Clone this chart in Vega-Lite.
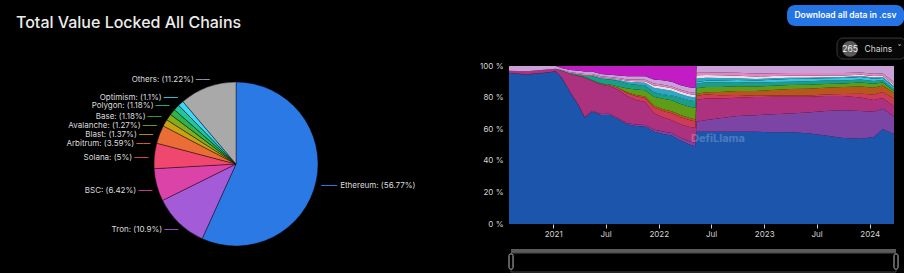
{
"$schema": "https://vega.github.io/schema/vega-lite/v6.json",
"background": "#000",
"padding": {"top": 5, "left": 0, "right": 0, "bottom": 0},
"bounds": "flush",
"spacing": 37,
"config": {"view": {"stroke": null}, "font": "Inter", "axisY": {"labelOverlap": false}},
"resolve": {"scale": {"color": "independent"}},
"datasets": {
"pie": [
{"chain":"Ethereum","pct":56.77,"k":1,"label":"Ethereum: (56.77%)"},
{"chain":"Tron","pct":10.9,"k":2,"label":"Tron: (10.9%)"},
{"chain":"BSC","pct":6.42,"k":3,"label":"BSC: (6.42%)"},
{"chain":"Solana","pct":5,"k":4,"label":"Solana: (5%)"},
{"chain":"Arbitrum","pct":3.59,"k":5,"label":"Arbitrum: (3.59%)"},
{"chain":"Blast","pct":1.37,"k":6,"label":"Blast: (1.37%)"},
{"chain":"Avalanche","pct":1.27,"k":7,"label":"Avalanche: (1.27%)"},
{"chain":"Base","pct":1.18,"k":8,"label":"Base: (1.18%)"},
{"chain":"Polygon","pct":1.18,"k":9,"label":"Polygon: (1.18%)"},
{"chain":"Optimism","pct":1.1,"k":10,"label":"Optimism: (1.1%)"},
{"chain":"Others","pct":11.22,"k":11,"label":"Others: (11.22%)"}
],
"chains": [
{"c":"Ethereum","k":1},{"c":"Tron","k":2},{"c":"BSC","k":3},{"c":"Solana","k":4},{"c":"Arbitrum","k":5},{"c":"Avalanche","k":6},{"c":"Polygon","k":7},{"c":"Optimism","k":8},{"c":"Fantom","k":9},{"c":"Cronos","k":10},{"c":"Mixin","k":11},{"c":"Others","k":12},{"c":"Terra","k":13}
],
"tvl": [
{"d":"2020-08-01","c":"Ethereum","v":95.5},{"d":"2020-08-01","c":"Tron","v":0},{"d":"2020-08-01","c":"BSC","v":1.5},{"d":"2020-08-01","c":"Solana","v":0},{"d":"2020-08-01","c":"Arbitrum","v":0},{"d":"2020-08-01","c":"Avalanche","v":0},{"d":"2020-08-01","c":"Polygon","v":0},{"d":"2020-08-01","c":"Optimism","v":0},{"d":"2020-08-01","c":"Fantom","v":0},{"d":"2020-08-01","c":"Cronos","v":0},{"d":"2020-08-01","c":"Mixin","v":0},{"d":"2020-08-01","c":"Others","v":3.0},{"d":"2020-08-01","c":"Terra","v":0},
{"d":"2020-10-01","c":"Ethereum","v":94.5},{"d":"2020-10-01","c":"Tron","v":0.2},{"d":"2020-10-01","c":"BSC","v":2.0},{"d":"2020-10-01","c":"Solana","v":0},{"d":"2020-10-01","c":"Arbitrum","v":0},{"d":"2020-10-01","c":"Avalanche","v":0},{"d":"2020-10-01","c":"Polygon","v":0},{"d":"2020-10-01","c":"Optimism","v":0},{"d":"2020-10-01","c":"Fantom","v":0},{"d":"2020-10-01","c":"Cronos","v":0},{"d":"2020-10-01","c":"Mixin","v":0},{"d":"2020-10-01","c":"Others","v":3.3},{"d":"2020-10-01","c":"Terra","v":0},
{"d":"2020-12-01","c":"Ethereum","v":95.5},{"d":"2020-12-01","c":"Tron","v":0.2},{"d":"2020-12-01","c":"BSC","v":2.0},{"d":"2020-12-01","c":"Solana","v":0},{"d":"2020-12-01","c":"Arbitrum","v":0},{"d":"2020-12-01","c":"Avalanche","v":0},{"d":"2020-12-01","c":"Polygon","v":0},{"d":"2020-12-01","c":"Optimism","v":0},{"d":"2020-12-01","c":"Fantom","v":0},{"d":"2020-12-01","c":"Cronos","v":0},{"d":"2020-12-01","c":"Mixin","v":0},{"d":"2020-12-01","c":"Others","v":2.3},{"d":"2020-12-01","c":"Terra","v":0},
{"d":"2021-01-10","c":"Ethereum","v":96.5},{"d":"2021-01-10","c":"Tron","v":0.2},{"d":"2021-01-10","c":"BSC","v":1.6},{"d":"2021-01-10","c":"Solana","v":0},{"d":"2021-01-10","c":"Arbitrum","v":0},{"d":"2021-01-10","c":"Avalanche","v":0},{"d":"2021-01-10","c":"Polygon","v":0},{"d":"2021-01-10","c":"Optimism","v":0},{"d":"2021-01-10","c":"Fantom","v":0},{"d":"2021-01-10","c":"Cronos","v":0},{"d":"2021-01-10","c":"Mixin","v":0},{"d":"2021-01-10","c":"Others","v":1.7},{"d":"2021-01-10","c":"Terra","v":0},
{"d":"2021-02-01","c":"Ethereum","v":92},{"d":"2021-02-01","c":"Tron","v":0.3},{"d":"2021-02-01","c":"BSC","v":4.5},{"d":"2021-02-01","c":"Solana","v":0},{"d":"2021-02-01","c":"Arbitrum","v":0},{"d":"2021-02-01","c":"Avalanche","v":0},{"d":"2021-02-01","c":"Polygon","v":0.2},{"d":"2021-02-01","c":"Optimism","v":0},{"d":"2021-02-01","c":"Fantom","v":0.1},{"d":"2021-02-01","c":"Cronos","v":0},{"d":"2021-02-01","c":"Mixin","v":0.4},{"d":"2021-02-01","c":"Others","v":1.0},{"d":"2021-02-01","c":"Terra","v":1.5},
{"d":"2021-03-01","c":"Ethereum","v":83},{"d":"2021-03-01","c":"Tron","v":0.4},{"d":"2021-03-01","c":"BSC","v":11.5},{"d":"2021-03-01","c":"Solana","v":0},{"d":"2021-03-01","c":"Arbitrum","v":0},{"d":"2021-03-01","c":"Avalanche","v":0},{"d":"2021-03-01","c":"Polygon","v":0.3},{"d":"2021-03-01","c":"Optimism","v":0},{"d":"2021-03-01","c":"Fantom","v":0.2},{"d":"2021-03-01","c":"Cronos","v":0},{"d":"2021-03-01","c":"Mixin","v":0.6},{"d":"2021-03-01","c":"Others","v":1.5},{"d":"2021-03-01","c":"Terra","v":2.5},
{"d":"2021-04-01","c":"Ethereum","v":74},{"d":"2021-04-01","c":"Tron","v":0.5},{"d":"2021-04-01","c":"BSC","v":19},{"d":"2021-04-01","c":"Solana","v":0.2},{"d":"2021-04-01","c":"Arbitrum","v":0},{"d":"2021-04-01","c":"Avalanche","v":0.2},{"d":"2021-04-01","c":"Polygon","v":0.5},{"d":"2021-04-01","c":"Optimism","v":0},{"d":"2021-04-01","c":"Fantom","v":0.2},{"d":"2021-04-01","c":"Cronos","v":0.1},{"d":"2021-04-01","c":"Mixin","v":0.7},{"d":"2021-04-01","c":"Others","v":1.6},{"d":"2021-04-01","c":"Terra","v":3.0},
{"d":"2021-04-20","c":"Ethereum","v":67},{"d":"2021-04-20","c":"Tron","v":0.5},{"d":"2021-04-20","c":"BSC","v":25},{"d":"2021-04-20","c":"Solana","v":0.3},{"d":"2021-04-20","c":"Arbitrum","v":0},{"d":"2021-04-20","c":"Avalanche","v":0.2},{"d":"2021-04-20","c":"Polygon","v":0.8},{"d":"2021-04-20","c":"Optimism","v":0},{"d":"2021-04-20","c":"Fantom","v":0.2},{"d":"2021-04-20","c":"Cronos","v":0.1},{"d":"2021-04-20","c":"Mixin","v":0.8},{"d":"2021-04-20","c":"Others","v":1.6},{"d":"2021-04-20","c":"Terra","v":3.5},
{"d":"2021-05-15","c":"Ethereum","v":71},{"d":"2021-05-15","c":"Tron","v":0.6},{"d":"2021-05-15","c":"BSC","v":19},{"d":"2021-05-15","c":"Solana","v":0.3},{"d":"2021-05-15","c":"Arbitrum","v":0},{"d":"2021-05-15","c":"Avalanche","v":0.3},{"d":"2021-05-15","c":"Polygon","v":2.5},{"d":"2021-05-15","c":"Optimism","v":0},{"d":"2021-05-15","c":"Fantom","v":0.3},{"d":"2021-05-15","c":"Cronos","v":0.2},{"d":"2021-05-15","c":"Mixin","v":0.8},{"d":"2021-05-15","c":"Others","v":1.5},{"d":"2021-05-15","c":"Terra","v":3.5},
{"d":"2021-06-15","c":"Ethereum","v":69},{"d":"2021-06-15","c":"Tron","v":0.6},{"d":"2021-06-15","c":"BSC","v":18.5},{"d":"2021-06-15","c":"Solana","v":0.5},{"d":"2021-06-15","c":"Arbitrum","v":0},{"d":"2021-06-15","c":"Avalanche","v":0.4},{"d":"2021-06-15","c":"Polygon","v":3.0},{"d":"2021-06-15","c":"Optimism","v":0},{"d":"2021-06-15","c":"Fantom","v":0.4},{"d":"2021-06-15","c":"Cronos","v":0.3},{"d":"2021-06-15","c":"Mixin","v":0.8},{"d":"2021-06-15","c":"Others","v":1.5},{"d":"2021-06-15","c":"Terra","v":5.0},
{"d":"2021-07-15","c":"Ethereum","v":69},{"d":"2021-07-15","c":"Tron","v":0.7},{"d":"2021-07-15","c":"BSC","v":17.5},{"d":"2021-07-15","c":"Solana","v":0.6},{"d":"2021-07-15","c":"Arbitrum","v":0},{"d":"2021-07-15","c":"Avalanche","v":0.5},{"d":"2021-07-15","c":"Polygon","v":3.2},{"d":"2021-07-15","c":"Optimism","v":0},{"d":"2021-07-15","c":"Fantom","v":0.5},{"d":"2021-07-15","c":"Cronos","v":0.3},{"d":"2021-07-15","c":"Mixin","v":0.7},{"d":"2021-07-15","c":"Others","v":1.5},{"d":"2021-07-15","c":"Terra","v":5.5},
{"d":"2021-08-15","c":"Ethereum","v":66},{"d":"2021-08-15","c":"Tron","v":0.8},{"d":"2021-08-15","c":"BSC","v":18},{"d":"2021-08-15","c":"Solana","v":1.2},{"d":"2021-08-15","c":"Arbitrum","v":0},{"d":"2021-08-15","c":"Avalanche","v":1.0},{"d":"2021-08-15","c":"Polygon","v":3.5},{"d":"2021-08-15","c":"Optimism","v":0},{"d":"2021-08-15","c":"Fantom","v":0.7},{"d":"2021-08-15","c":"Cronos","v":0.4},{"d":"2021-08-15","c":"Mixin","v":0.8},{"d":"2021-08-15","c":"Others","v":1.6},{"d":"2021-08-15","c":"Terra","v":6.0},
{"d":"2021-09-15","c":"Ethereum","v":63},{"d":"2021-09-15","c":"Tron","v":0.8},{"d":"2021-09-15","c":"BSC","v":17},{"d":"2021-09-15","c":"Solana","v":2.0},{"d":"2021-09-15","c":"Arbitrum","v":0.5},{"d":"2021-09-15","c":"Avalanche","v":2.5},{"d":"2021-09-15","c":"Polygon","v":3.0},{"d":"2021-09-15","c":"Optimism","v":0},{"d":"2021-09-15","c":"Fantom","v":1.2},{"d":"2021-09-15","c":"Cronos","v":0.6},{"d":"2021-09-15","c":"Mixin","v":0.9},{"d":"2021-09-15","c":"Others","v":2.0},{"d":"2021-09-15","c":"Terra","v":6.5},
{"d":"2021-10-15","c":"Ethereum","v":62},{"d":"2021-10-15","c":"Tron","v":1.0},{"d":"2021-10-15","c":"BSC","v":15.5},{"d":"2021-10-15","c":"Solana","v":2.3},{"d":"2021-10-15","c":"Arbitrum","v":0.8},{"d":"2021-10-15","c":"Avalanche","v":3.5},{"d":"2021-10-15","c":"Polygon","v":2.8},{"d":"2021-10-15","c":"Optimism","v":0.3},{"d":"2021-10-15","c":"Fantom","v":1.5},{"d":"2021-10-15","c":"Cronos","v":0.7},{"d":"2021-10-15","c":"Mixin","v":1.0},{"d":"2021-10-15","c":"Others","v":2.1},{"d":"2021-10-15","c":"Terra","v":6.5},
{"d":"2021-11-15","c":"Ethereum","v":61.5},{"d":"2021-11-15","c":"Tron","v":1.2},{"d":"2021-11-15","c":"BSC","v":14.5},{"d":"2021-11-15","c":"Solana","v":2.5},{"d":"2021-11-15","c":"Arbitrum","v":1.0},{"d":"2021-11-15","c":"Avalanche","v":4.0},{"d":"2021-11-15","c":"Polygon","v":2.5},{"d":"2021-11-15","c":"Optimism","v":0.4},{"d":"2021-11-15","c":"Fantom","v":1.8},{"d":"2021-11-15","c":"Cronos","v":0.9},{"d":"2021-11-15","c":"Mixin","v":1.0},{"d":"2021-11-15","c":"Others","v":2.2},{"d":"2021-11-15","c":"Terra","v":6.5},
{"d":"2021-12-15","c":"Ethereum","v":58.5},{"d":"2021-12-15","c":"Tron","v":1.3},{"d":"2021-12-15","c":"BSC","v":10.5},{"d":"2021-12-15","c":"Solana","v":3.5},{"d":"2021-12-15","c":"Arbitrum","v":1.2},{"d":"2021-12-15","c":"Avalanche","v":5.5},{"d":"2021-12-15","c":"Polygon","v":2.5},{"d":"2021-12-15","c":"Optimism","v":0.4},{"d":"2021-12-15","c":"Fantom","v":2.8},{"d":"2021-12-15","c":"Cronos","v":1.5},{"d":"2021-12-15","c":"Mixin","v":1.2},{"d":"2021-12-15","c":"Others","v":2.6},{"d":"2021-12-15","c":"Terra","v":8.5},
{"d":"2022-01-15","c":"Ethereum","v":57},{"d":"2022-01-15","c":"Tron","v":1.5},{"d":"2022-01-15","c":"BSC","v":9},{"d":"2022-01-15","c":"Solana","v":4},{"d":"2022-01-15","c":"Arbitrum","v":1.2},{"d":"2022-01-15","c":"Avalanche","v":6.5},{"d":"2022-01-15","c":"Polygon","v":2.5},{"d":"2022-01-15","c":"Optimism","v":0.4},{"d":"2022-01-15","c":"Fantom","v":3.2},{"d":"2022-01-15","c":"Cronos","v":1.7},{"d":"2022-01-15","c":"Mixin","v":1.2},{"d":"2022-01-15","c":"Others","v":2.8},{"d":"2022-01-15","c":"Terra","v":9},
{"d":"2022-02-15","c":"Ethereum","v":56},{"d":"2022-02-15","c":"Tron","v":1.6},{"d":"2022-02-15","c":"BSC","v":8},{"d":"2022-02-15","c":"Solana","v":4.5},{"d":"2022-02-15","c":"Arbitrum","v":1.3},{"d":"2022-02-15","c":"Avalanche","v":7},{"d":"2022-02-15","c":"Polygon","v":2.5},{"d":"2022-02-15","c":"Optimism","v":0.4},{"d":"2022-02-15","c":"Fantom","v":3.0},{"d":"2022-02-15","c":"Cronos","v":1.6},{"d":"2022-02-15","c":"Mixin","v":1.2},{"d":"2022-02-15","c":"Others","v":2.9},{"d":"2022-02-15","c":"Terra","v":10},
{"d":"2022-03-15","c":"Ethereum","v":53},{"d":"2022-03-15","c":"Tron","v":1.8},{"d":"2022-03-15","c":"BSC","v":8.5},{"d":"2022-03-15","c":"Solana","v":4.5},{"d":"2022-03-15","c":"Arbitrum","v":1.3},{"d":"2022-03-15","c":"Avalanche","v":7},{"d":"2022-03-15","c":"Polygon","v":3.5},{"d":"2022-03-15","c":"Optimism","v":0.4},{"d":"2022-03-15","c":"Fantom","v":2.5},{"d":"2022-03-15","c":"Cronos","v":1.5},{"d":"2022-03-15","c":"Mixin","v":1.2},{"d":"2022-03-15","c":"Others","v":2.8},{"d":"2022-03-15","c":"Terra","v":12},
{"d":"2022-04-15","c":"Ethereum","v":50.5},{"d":"2022-04-15","c":"Tron","v":2},{"d":"2022-04-15","c":"BSC","v":9},{"d":"2022-04-15","c":"Solana","v":4.5},{"d":"2022-04-15","c":"Arbitrum","v":1.3},{"d":"2022-04-15","c":"Avalanche","v":7},{"d":"2022-04-15","c":"Polygon","v":3.5},{"d":"2022-04-15","c":"Optimism","v":0.5},{"d":"2022-04-15","c":"Fantom","v":2.4},{"d":"2022-04-15","c":"Cronos","v":1.5},{"d":"2022-04-15","c":"Mixin","v":1.3},{"d":"2022-04-15","c":"Others","v":3.0},{"d":"2022-04-15","c":"Terra","v":13.5},
{"d":"2022-05-08","c":"Ethereum","v":49},{"d":"2022-05-08","c":"Tron","v":2.2},{"d":"2022-05-08","c":"BSC","v":9.5},{"d":"2022-05-08","c":"Solana","v":4.2},{"d":"2022-05-08","c":"Arbitrum","v":1.3},{"d":"2022-05-08","c":"Avalanche","v":7.2},{"d":"2022-05-08","c":"Polygon","v":3.8},{"d":"2022-05-08","c":"Optimism","v":0.5},{"d":"2022-05-08","c":"Fantom","v":2.4},{"d":"2022-05-08","c":"Cronos","v":1.5},{"d":"2022-05-08","c":"Mixin","v":1.3},{"d":"2022-05-08","c":"Others","v":3.1},{"d":"2022-05-08","c":"Terra","v":14},
{"d":"2022-05-12","c":"Ethereum","v":58.4},{"d":"2022-05-12","c":"Tron","v":6.3},{"d":"2022-05-12","c":"BSC","v":14},{"d":"2022-05-12","c":"Solana","v":2.5},{"d":"2022-05-12","c":"Arbitrum","v":1.2},{"d":"2022-05-12","c":"Avalanche","v":3.5},{"d":"2022-05-12","c":"Polygon","v":3.0},{"d":"2022-05-12","c":"Optimism","v":1.0},{"d":"2022-05-12","c":"Fantom","v":2.2},{"d":"2022-05-12","c":"Cronos","v":2.0},{"d":"2022-05-12","c":"Mixin","v":1.9},{"d":"2022-05-12","c":"Others","v":4.0},{"d":"2022-05-12","c":"Terra","v":0},
{"d":"2022-06-15","c":"Ethereum","v":58.4},{"d":"2022-06-15","c":"Tron","v":7.5},{"d":"2022-06-15","c":"BSC","v":13.5},{"d":"2022-06-15","c":"Solana","v":2.5},{"d":"2022-06-15","c":"Arbitrum","v":1.5},{"d":"2022-06-15","c":"Avalanche","v":3.3},{"d":"2022-06-15","c":"Polygon","v":3.0},{"d":"2022-06-15","c":"Optimism","v":1.0},{"d":"2022-06-15","c":"Fantom","v":1.8},{"d":"2022-06-15","c":"Cronos","v":1.8},{"d":"2022-06-15","c":"Mixin","v":1.8},{"d":"2022-06-15","c":"Others","v":3.9},{"d":"2022-06-15","c":"Terra","v":0},
{"d":"2022-08-01","c":"Ethereum","v":58.4},{"d":"2022-08-01","c":"Tron","v":8.6},{"d":"2022-08-01","c":"BSC","v":12.5},{"d":"2022-08-01","c":"Solana","v":2.0},{"d":"2022-08-01","c":"Arbitrum","v":2.0},{"d":"2022-08-01","c":"Avalanche","v":3.2},{"d":"2022-08-01","c":"Polygon","v":3.0},{"d":"2022-08-01","c":"Optimism","v":1.2},{"d":"2022-08-01","c":"Fantom","v":1.5},{"d":"2022-08-01","c":"Cronos","v":1.7},{"d":"2022-08-01","c":"Mixin","v":1.8},{"d":"2022-08-01","c":"Others","v":4.1},{"d":"2022-08-01","c":"Terra","v":0},
{"d":"2022-10-01","c":"Ethereum","v":58.4},{"d":"2022-10-01","c":"Tron","v":10},{"d":"2022-10-01","c":"BSC","v":11.5},{"d":"2022-10-01","c":"Solana","v":1.8},{"d":"2022-10-01","c":"Arbitrum","v":2.5},{"d":"2022-10-01","c":"Avalanche","v":3.0},{"d":"2022-10-01","c":"Polygon","v":2.7},{"d":"2022-10-01","c":"Optimism","v":1.2},{"d":"2022-10-01","c":"Fantom","v":1.2},{"d":"2022-10-01","c":"Cronos","v":1.6},{"d":"2022-10-01","c":"Mixin","v":1.8},{"d":"2022-10-01","c":"Others","v":4.3},{"d":"2022-10-01","c":"Terra","v":0},
{"d":"2022-12-01","c":"Ethereum","v":58.4},{"d":"2022-12-01","c":"Tron","v":10.5},{"d":"2022-12-01","c":"BSC","v":11.5},{"d":"2022-12-01","c":"Solana","v":0.8},{"d":"2022-12-01","c":"Arbitrum","v":3.0},{"d":"2022-12-01","c":"Avalanche","v":2.8},{"d":"2022-12-01","c":"Polygon","v":2.5},{"d":"2022-12-01","c":"Optimism","v":1.3},{"d":"2022-12-01","c":"Fantom","v":1.0},{"d":"2022-12-01","c":"Cronos","v":1.5},{"d":"2022-12-01","c":"Mixin","v":1.9},{"d":"2022-12-01","c":"Others","v":4.8},{"d":"2022-12-01","c":"Terra","v":0},
{"d":"2023-02-01","c":"Ethereum","v":58},{"d":"2023-02-01","c":"Tron","v":11.5},{"d":"2023-02-01","c":"BSC","v":11},{"d":"2023-02-01","c":"Solana","v":0.8},{"d":"2023-02-01","c":"Arbitrum","v":3.5},{"d":"2023-02-01","c":"Avalanche","v":2.7},{"d":"2023-02-01","c":"Polygon","v":2.3},{"d":"2023-02-01","c":"Optimism","v":1.5},{"d":"2023-02-01","c":"Fantom","v":0.9},{"d":"2023-02-01","c":"Cronos","v":1.4},{"d":"2023-02-01","c":"Mixin","v":1.8},{"d":"2023-02-01","c":"Others","v":4.6},{"d":"2023-02-01","c":"Terra","v":0},
{"d":"2023-04-01","c":"Ethereum","v":58},{"d":"2023-04-01","c":"Tron","v":12},{"d":"2023-04-01","c":"BSC","v":10.5},{"d":"2023-04-01","c":"Solana","v":0.9},{"d":"2023-04-01","c":"Arbitrum","v":4.0},{"d":"2023-04-01","c":"Avalanche","v":2.5},{"d":"2023-04-01","c":"Polygon","v":2.2},{"d":"2023-04-01","c":"Optimism","v":1.6},{"d":"2023-04-01","c":"Fantom","v":0.8},{"d":"2023-04-01","c":"Cronos","v":1.3},{"d":"2023-04-01","c":"Mixin","v":1.7},{"d":"2023-04-01","c":"Others","v":4.5},{"d":"2023-04-01","c":"Terra","v":0},
{"d":"2023-06-01","c":"Ethereum","v":57.5},{"d":"2023-06-01","c":"Tron","v":13},{"d":"2023-06-01","c":"BSC","v":10},{"d":"2023-06-01","c":"Solana","v":0.9},{"d":"2023-06-01","c":"Arbitrum","v":4.2},{"d":"2023-06-01","c":"Avalanche","v":2.5},{"d":"2023-06-01","c":"Polygon","v":2.2},{"d":"2023-06-01","c":"Optimism","v":1.6},{"d":"2023-06-01","c":"Fantom","v":0.7},{"d":"2023-06-01","c":"Cronos","v":1.2},{"d":"2023-06-01","c":"Mixin","v":1.7},{"d":"2023-06-01","c":"Others","v":4.5},{"d":"2023-06-01","c":"Terra","v":0},
{"d":"2023-08-01","c":"Ethereum","v":56},{"d":"2023-08-01","c":"Tron","v":15.5},{"d":"2023-08-01","c":"BSC","v":9.5},{"d":"2023-08-01","c":"Solana","v":1.0},{"d":"2023-08-01","c":"Arbitrum","v":4.3},{"d":"2023-08-01","c":"Avalanche","v":2.3},{"d":"2023-08-01","c":"Polygon","v":2.2},{"d":"2023-08-01","c":"Optimism","v":1.5},{"d":"2023-08-01","c":"Fantom","v":0.6},{"d":"2023-08-01","c":"Cronos","v":1.1},{"d":"2023-08-01","c":"Mixin","v":1.6},{"d":"2023-08-01","c":"Others","v":4.4},{"d":"2023-08-01","c":"Terra","v":0},
{"d":"2023-10-01","c":"Ethereum","v":54.5},{"d":"2023-10-01","c":"Tron","v":17.5},{"d":"2023-10-01","c":"BSC","v":9},{"d":"2023-10-01","c":"Solana","v":1.2},{"d":"2023-10-01","c":"Arbitrum","v":4.5},{"d":"2023-10-01","c":"Avalanche","v":2.2},{"d":"2023-10-01","c":"Polygon","v":2.0},{"d":"2023-10-01","c":"Optimism","v":1.5},{"d":"2023-10-01","c":"Fantom","v":0.6},{"d":"2023-10-01","c":"Cronos","v":1.0},{"d":"2023-10-01","c":"Mixin","v":1.6},{"d":"2023-10-01","c":"Others","v":4.4},{"d":"2023-10-01","c":"Terra","v":0},
{"d":"2023-12-01","c":"Ethereum","v":54},{"d":"2023-12-01","c":"Tron","v":17.5},{"d":"2023-12-01","c":"BSC","v":8.5},{"d":"2023-12-01","c":"Solana","v":2.5},{"d":"2023-12-01","c":"Arbitrum","v":4.5},{"d":"2023-12-01","c":"Avalanche","v":2.5},{"d":"2023-12-01","c":"Polygon","v":2.0},{"d":"2023-12-01","c":"Optimism","v":1.5},{"d":"2023-12-01","c":"Fantom","v":0.6},{"d":"2023-12-01","c":"Cronos","v":0.9},{"d":"2023-12-01","c":"Mixin","v":1.4},{"d":"2023-12-01","c":"Others","v":4.1},{"d":"2023-12-01","c":"Terra","v":0},
{"d":"2024-01-15","c":"Ethereum","v":55},{"d":"2024-01-15","c":"Tron","v":16},{"d":"2024-01-15","c":"BSC","v":7.5},{"d":"2024-01-15","c":"Solana","v":3.5},{"d":"2024-01-15","c":"Arbitrum","v":4.3},{"d":"2024-01-15","c":"Avalanche","v":2.5},{"d":"2024-01-15","c":"Polygon","v":1.7},{"d":"2024-01-15","c":"Optimism","v":1.5},{"d":"2024-01-15","c":"Fantom","v":0.7},{"d":"2024-01-15","c":"Cronos","v":0.9},{"d":"2024-01-15","c":"Mixin","v":1.5},{"d":"2024-01-15","c":"Others","v":4.9},{"d":"2024-01-15","c":"Terra","v":0},
{"d":"2024-02-15","c":"Ethereum","v":60},{"d":"2024-02-15","c":"Tron","v":13},{"d":"2024-02-15","c":"BSC","v":6.8},{"d":"2024-02-15","c":"Solana","v":3.8},{"d":"2024-02-15","c":"Arbitrum","v":4.0},{"d":"2024-02-15","c":"Avalanche","v":2.0},{"d":"2024-02-15","c":"Polygon","v":1.5},{"d":"2024-02-15","c":"Optimism","v":1.3},{"d":"2024-02-15","c":"Fantom","v":0.7},{"d":"2024-02-15","c":"Cronos","v":0.8},{"d":"2024-02-15","c":"Mixin","v":1.4},{"d":"2024-02-15","c":"Others","v":4.7},{"d":"2024-02-15","c":"Terra","v":0},
{"d":"2024-03-25","c":"Ethereum","v":57},{"d":"2024-03-25","c":"Tron","v":11},{"d":"2024-03-25","c":"BSC","v":6.5},{"d":"2024-03-25","c":"Solana","v":4.8},{"d":"2024-03-25","c":"Arbitrum","v":3.6},{"d":"2024-03-25","c":"Avalanche","v":1.3},{"d":"2024-03-25","c":"Polygon","v":1.2},{"d":"2024-03-25","c":"Optimism","v":1.1},{"d":"2024-03-25","c":"Fantom","v":0.8},{"d":"2024-03-25","c":"Cronos","v":0.9},{"d":"2024-03-25","c":"Mixin","v":1.6},{"d":"2024-03-25","c":"Others","v":10.2},{"d":"2024-03-25","c":"Terra","v":0}
]
},
"hconcat": [
{
"width": 472,
"height": 196,
"title": {"text": "Total Value Locked All Chains", "anchor": "start", "dx": 16, "offset": 22, "baseline": "alphabetic", "font": "Inter", "fontSize": 16, "fontWeight": 500, "color": "#ececec"},
"data": {"name": "pie"},
"resolve": {"scale": {"theta": "independent"}},
"layer": [
{
"mark": {"type": "arc", "outerRadius": 82, "stroke": "#000", "strokeWidth": 0.4},
"encoding": {
"theta": {"field": "pct", "type": "quantitative", "stack": true},
"order": {"field": "k", "type": "quantitative"},
"color": {"field": "chain", "type": "nominal", "legend": null, "scale": {"domain": ["Ethereum","Tron","BSC","Solana","Arbitrum","Blast","Avalanche","Base","Polygon","Optimism","Others"], "range": ["#2a79e4","#a45bd7","#dc43a8","#ef476f","#ea6c36","#c9a214","#86ad1c","#30b24c","#22c59c","#3fd7f5","#a9a9a9"]}}
}
},
{
"mark": {"type": "text", "align": "right", "baseline": "middle", "dx": -16, "radius": 88, "fontSize": 8, "fill": "#dcdcdc", "font": "Inter"},
"encoding": {
"theta": {"field": "pct", "type": "quantitative", "stack": true, "scale": {"domain": [0, 28.385, 62.22, 70.88, 76.59, 80.885, 83.365, 84.685, 85.91, 87.09, 88.23, 94.39, 100], "range": [0, 1.8239, 3.8572, 4.4, 4.7805, 4.941, 5.0475, 5.1592, 5.2761, 5.428, 5.5606, 5.9812, 6.2832]}},
"order": {"field": "k", "type": "quantitative"},
"text": {"condition": {"test": "datum.chain === 'Ethereum'", "value": ""}, "field": "label"}
}
},
{
"mark": {"type": "text", "align": "left", "baseline": "middle", "dx": 19, "radius": 88, "fontSize": 8, "fill": "#dcdcdc", "font": "Inter"},
"encoding": {
"theta": {"field": "pct", "type": "quantitative", "stack": true, "scale": {"domain": [0, 28.385, 62.22, 70.88, 76.59, 80.885, 83.365, 84.685, 85.91, 87.09, 88.23, 94.39, 100], "range": [0, 1.8239, 3.8572, 4.4, 4.7805, 4.941, 5.0475, 5.1592, 5.2761, 5.428, 5.5606, 5.9812, 6.2832]}},
"order": {"field": "k", "type": "quantitative"},
"text": {"condition": {"test": "datum.chain !== 'Ethereum'", "value": ""}, "field": "label"}
}
},
{
"mark": {"type": "text", "align": "right", "baseline": "middle", "radius": 88, "fontSize": 7, "fontWeight": 700, "font": "Inter"},
"encoding": {
"theta": {"field": "pct", "type": "quantitative", "stack": true, "scale": {"domain": [0, 28.385, 62.22, 70.88, 76.59, 80.885, 83.365, 84.685, 85.91, 87.09, 88.23, 94.39, 100], "range": [0, 1.8239, 3.8572, 4.4, 4.7805, 4.941, 5.0475, 5.1592, 5.2761, 5.428, 5.5606, 5.9812, 6.2832]}},
"order": {"field": "k", "type": "quantitative"},
"text": {"condition": {"test": "datum.chain === 'Ethereum'", "value": ""}, "value": "——"},
"color": {"field": "chain", "type": "nominal", "legend": null}
}
},
{
"mark": {"type": "text", "align": "left", "baseline": "middle", "radius": 88, "fontSize": 8, "fontWeight": 700, "font": "Inter"},
"encoding": {
"theta": {"field": "pct", "type": "quantitative", "stack": true, "scale": {"domain": [0, 28.385, 62.22, 70.88, 76.59, 80.885, 83.365, 84.685, 85.91, 87.09, 88.23, 94.39, 100], "range": [0, 1.8239, 3.8572, 4.4, 4.7805, 4.941, 5.0475, 5.1592, 5.2761, 5.428, 5.5606, 5.9812, 6.2832]}},
"order": {"field": "k", "type": "quantitative"},
"text": {"condition": {"test": "datum.chain !== 'Ethereum'", "value": ""}, "value": "——"},
"color": {"field": "chain", "type": "nominal", "legend": null}
}
}
]
},
{
"width": 385,
"height": 158,
"layer": [
{
"data": {"name": "tvl"},
"transform": [{"lookup": "c", "from": {"data": {"name": "chains"}, "key": "c", "fields": ["k"]}}],
"mark": {"type": "area", "interpolate": "linear"},
"encoding": {
"x": {"field": "d", "type": "temporal", "title": null,
"scale": {"type": "utc", "nice": false, "domain": [{"year": 2020, "month": 8, "date": 1, "utc": true}, {"year": 2024, "month": 3, "date": 25, "utc": true}]},
"axis": {"tickCount": {"interval": "month", "step": 6}, "labelExpr": "utcmonth(datum.value) === 0 ? utcFormat(datum.value, '%Y') : utcFormat(datum.value, '%b')", "domain": false, "grid": false, "ticks": true, "tickSize": 4, "tickColor": "#cfcfcf", "labelColor": "#d4d4d4", "labelFont": "Inter", "labelFontSize": 8, "labelPadding": 2, "labelFlush": false}},
"y": {"field": "v", "type": "quantitative", "stack": "normalize", "title": null,
"scale": {"domain": [0, 1], "nice": false},
"axis": {"values": [0, 0.2, 0.4, 0.6, 0.8, 1], "labelExpr": "round(datum.value * 100) + ' %'", "labelOverlap": false, "domain": false, "ticks": false, "grid": false, "labelColor": "#d4d4d4", "labelFont": "Inter", "labelFontSize": 8, "labelPadding": 6}},
"color": {"field": "c", "type": "nominal", "legend": null,
"scale": {"domain": ["Ethereum","Tron","BSC","Solana","Arbitrum","Avalanche","Polygon","Optimism","Fantom","Cronos","Mixin","Others","Terra"], "range": ["#1b55ac","#7c44a4","#ac317e","#cd3b58","#b9561f","#5f9c17","#1a9e88","#3fc3e0","#2aa8c4","#e8e0ef","#e586c0","#c9a0d8","#c21dc5"]}},
"order": {"field": "k", "type": "quantitative"}
}
},
{
"data": {"values": [{}]},
"mark": {"type": "text", "text": "DefiLlama", "font": "Inter", "fontSize": 11, "fontWeight": 700, "fill": "#ffffff", "opacity": 0.22, "align": "center", "baseline": "middle"},
"encoding": {
"x": {"datum": {"year": 2022, "month": 7, "date": 25, "utc": true}, "type": "temporal", "title": null},
"y": {"datum": 0.538, "type": "quantitative", "title": null, "axis": {"values": [0, 0.2, 0.4, 0.6, 0.8, 1], "labelExpr": "round(datum.value * 100) + ' %'", "labelOverlap": false, "domain": false, "ticks": false, "grid": false, "labelColor": "#d4d4d4", "labelFont": "Inter", "labelFontSize": 8, "labelPadding": 6}}
}
},
{
"data": {"values": [{}]},
"mark": {"type": "rect", "fill": "#5b5b5b"},
"encoding": {
"x": {"datum": {"year": 2020, "month": 8, "date": 8, "utc": true}, "type": "temporal", "title": null},
"x2": {"datum": {"year": 2024, "month": 4, "date": 1, "utc": true}},
"y": {"datum": -0.158, "type": "quantitative", "title": null, "axis": {"values": [0, 0.2, 0.4, 0.6, 0.8, 1], "labelExpr": "round(datum.value * 100) + ' %'", "labelOverlap": false, "domain": false, "ticks": false, "grid": false, "labelColor": "#d4d4d4", "labelFont": "Inter", "labelFontSize": 8, "labelPadding": 6}},
"y2": {"datum": -0.184}
}
},
{
"data": {"values": [{}]},
"mark": {"type": "rect", "fillOpacity": 0, "stroke": "#454545", "strokeWidth": 1},
"encoding": {
"x": {"datum": {"year": 2020, "month": 8, "date": 8, "utc": true}, "type": "temporal", "title": null},
"x2": {"datum": {"year": 2024, "month": 4, "date": 1, "utc": true}},
"y": {"datum": -0.184, "type": "quantitative", "title": null, "axis": {"values": [0, 0.2, 0.4, 0.6, 0.8, 1], "labelExpr": "round(datum.value * 100) + ' %'", "labelOverlap": false, "domain": false, "ticks": false, "grid": false, "labelColor": "#d4d4d4", "labelFont": "Inter", "labelFontSize": 8, "labelPadding": 6}},
"y2": {"datum": -0.304}
}
},
{
"data": {"values": [{}]},
"mark": {"type": "rect", "fill": "#000", "stroke": "#bbbbbb", "strokeWidth": 1, "cornerRadius": 1.5},
"encoding": {
"x": {"datum": {"year": 2020, "month": 8, "date": 1, "utc": true}, "type": "temporal", "title": null},
"x2": {"datum": {"year": 2020, "month": 8, "date": 15, "utc": true}},
"y": {"datum": -0.19, "type": "quantitative", "title": null, "axis": {"values": [0, 0.2, 0.4, 0.6, 0.8, 1], "labelExpr": "round(datum.value * 100) + ' %'", "labelOverlap": false, "domain": false, "ticks": false, "grid": false, "labelColor": "#d4d4d4", "labelFont": "Inter", "labelFontSize": 8, "labelPadding": 6}},
"y2": {"datum": -0.285}
}
},
{
"data": {"values": [{}]},
"mark": {"type": "rect", "fill": "#000", "stroke": "#bbbbbb", "strokeWidth": 1, "cornerRadius": 1.5},
"encoding": {
"x": {"datum": {"year": 2024, "month": 3, "date": 25, "utc": true}, "type": "temporal", "title": null},
"x2": {"datum": {"year": 2024, "month": 4, "date": 8, "utc": true}},
"y": {"datum": -0.19, "type": "quantitative", "title": null, "axis": {"values": [0, 0.2, 0.4, 0.6, 0.8, 1], "labelExpr": "round(datum.value * 100) + ' %'", "labelOverlap": false, "domain": false, "ticks": false, "grid": false, "labelColor": "#d4d4d4", "labelFont": "Inter", "labelFontSize": 8, "labelPadding": 6}},
"y2": {"datum": -0.285}
}
},
{
"data": {"values": [{}]},
"mark": {"type": "rect", "fill": "#2474e5", "cornerRadius": 8},
"encoding": {
"x": {"datum": {"year": 2023, "month": 3, "date": 21, "utc": true}, "type": "temporal", "title": null},
"x2": {"datum": {"year": 2024, "month": 4, "date": 29, "utc": true}},
"y": {"datum": 1.386, "type": "quantitative", "title": null, "axis": {"values": [0, 0.2, 0.4, 0.6, 0.8, 1], "labelExpr": "round(datum.value * 100) + ' %'", "labelOverlap": false, "domain": false, "ticks": false, "grid": false, "labelColor": "#d4d4d4", "labelFont": "Inter", "labelFontSize": 8, "labelPadding": 6}},
"y2": {"datum": 1.253}
}
},
{
"data": {"values": [{}]},
"mark": {"type": "text", "text": "Download all data in .csv", "font": "Inter", "fontSize": 8.5, "fontWeight": 600, "fill": "#ffffff", "align": "center", "baseline": "middle"},
"encoding": {
"x": {"datum": {"year": 2023, "month": 10, "date": 9, "utc": true}, "type": "temporal", "title": null},
"y": {"datum": 1.32, "type": "quantitative", "title": null, "axis": {"values": [0, 0.2, 0.4, 0.6, 0.8, 1], "labelExpr": "round(datum.value * 100) + ' %'", "labelOverlap": false, "domain": false, "ticks": false, "grid": false, "labelColor": "#d4d4d4", "labelFont": "Inter", "labelFontSize": 8, "labelPadding": 6}}
}
},
{
"data": {"values": [{}]},
"mark": {"type": "rect", "fill": "#070707", "stroke": "#3a3a3a", "strokeWidth": 1, "cornerRadius": 6},
"encoding": {
"x": {"datum": {"year": 2023, "month": 9, "date": 10, "utc": true}, "type": "temporal", "title": null},
"x2": {"datum": {"year": 2024, "month": 5, "date": 5, "utc": true}},
"y": {"datum": 1.177, "type": "quantitative", "title": null, "axis": {"values": [0, 0.2, 0.4, 0.6, 0.8, 1], "labelExpr": "round(datum.value * 100) + ' %'", "labelOverlap": false, "domain": false, "ticks": false, "grid": false, "labelColor": "#d4d4d4", "labelFont": "Inter", "labelFontSize": 8, "labelPadding": 6}},
"y2": {"datum": 1.044}
}
},
{
"data": {"values": [{}]},
"mark": {"type": "point", "shape": "circle", "filled": true, "size": 250, "fill": "#5a5a5a", "opacity": 1},
"encoding": {
"x": {"datum": {"year": 2023, "month": 10, "date": 25, "utc": true}, "type": "temporal", "title": null},
"y": {"datum": 1.108, "type": "quantitative", "title": null, "axis": {"values": [0, 0.2, 0.4, 0.6, 0.8, 1], "labelExpr": "round(datum.value * 100) + ' %'", "labelOverlap": false, "domain": false, "ticks": false, "grid": false, "labelColor": "#d4d4d4", "labelFont": "Inter", "labelFontSize": 8, "labelPadding": 6}}
}
},
{
"data": {"values": [{}]},
"mark": {"type": "text", "text": "265", "font": "Inter", "fontSize": 8.5, "fill": "#f0f0f0", "align": "center", "baseline": "middle"},
"encoding": {
"x": {"datum": {"year": 2023, "month": 10, "date": 25, "utc": true}, "type": "temporal", "title": null},
"y": {"datum": 1.108, "type": "quantitative", "title": null, "axis": {"values": [0, 0.2, 0.4, 0.6, 0.8, 1], "labelExpr": "round(datum.value * 100) + ' %'", "labelOverlap": false, "domain": false, "ticks": false, "grid": false, "labelColor": "#d4d4d4", "labelFont": "Inter", "labelFontSize": 8, "labelPadding": 6}}
}
},
{
"data": {"values": [{}]},
"mark": {"type": "text", "text": "Chains", "font": "Inter", "fontSize": 8.5, "fill": "#d8d8d8", "align": "center", "baseline": "middle"},
"encoding": {
"x": {"datum": {"year": 2024, "month": 1, "date": 31, "utc": true}, "type": "temporal", "title": null},
"y": {"datum": 1.108, "type": "quantitative", "title": null, "axis": {"values": [0, 0.2, 0.4, 0.6, 0.8, 1], "labelExpr": "round(datum.value * 100) + ' %'", "labelOverlap": false, "domain": false, "ticks": false, "grid": false, "labelColor": "#d4d4d4", "labelFont": "Inter", "labelFontSize": 8, "labelPadding": 6}}
}
},
{
"data": {"values": [{}]},
"mark": {"type": "text", "text": "˅", "font": "DejaVu Sans", "fontSize": 8, "fill": "#d8d8d8", "align": "center", "baseline": "middle"},
"encoding": {
"x": {"datum": {"year": 2024, "month": 4, "date": 13, "utc": true}, "type": "temporal", "title": null},
"y": {"datum": 1.108, "type": "quantitative", "title": null, "axis": {"values": [0, 0.2, 0.4, 0.6, 0.8, 1], "labelExpr": "round(datum.value * 100) + ' %'", "labelOverlap": false, "domain": false, "ticks": false, "grid": false, "labelColor": "#d4d4d4", "labelFont": "Inter", "labelFontSize": 8, "labelPadding": 6}}
}
}
]
}
]
}
